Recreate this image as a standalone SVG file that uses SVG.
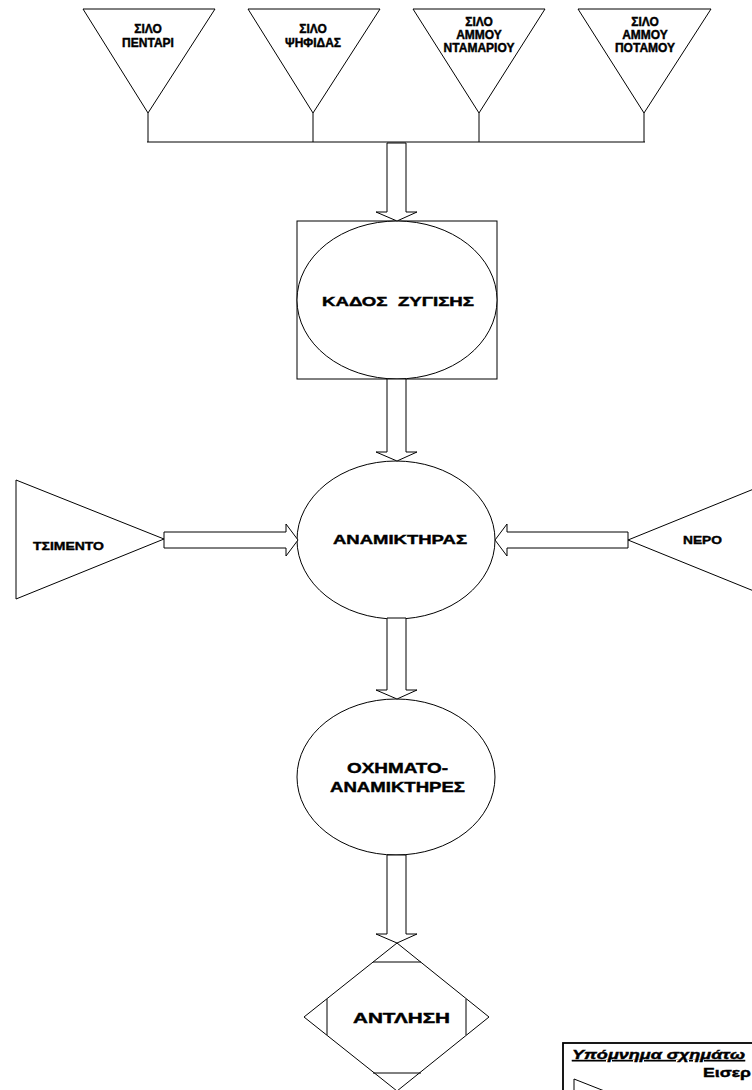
<svg xmlns="http://www.w3.org/2000/svg" width="752" height="1090" viewBox="0 0 752 1090">
<style>
.s{fill:#fff;stroke:#000;stroke-width:1}
.n{fill:none;stroke:#000;stroke-width:1}
.t{font-family:"Liberation Sans",Arial,sans-serif;font-weight:bold;fill:#000;stroke:#000;stroke-width:0.4}
.c{text-anchor:middle}
</style>
<rect x="0" y="0" width="752" height="1090" fill="#fff"/>
<g id="silo-pentari">
<polygon class="s" points="83,9 215,9 148,113"/>
<text class="t c" font-size="12" x="148" y="33">ΣΙΛΟ</text>
<text class="t c" font-size="12" x="148" y="47">ΠΕΝΤΑΡΙ</text>
</g>
<g id="silo-psifidas">
<polygon class="s" points="248,9 380,9 313,113"/>
<text class="t c" font-size="12" x="313" y="33">ΣΙΛΟ</text>
<text class="t c" font-size="12" x="313" y="47">ΨΗΦΙΔΑΣ</text>
</g>
<g id="silo-ammou-ntamariou">
<polygon class="s" points="413,9 545,9 479,113"/>
<text class="t c" font-size="12" x="479" y="26">ΣΙΛΟ</text>
<text class="t c" font-size="12" x="479" y="39">ΑΜΜΟΥ</text>
<text class="t c" font-size="12" x="479" y="52">ΝΤΑΜΑΡΙΟΥ</text>
</g>
<g id="silo-ammou-potamou">
<polygon class="s" points="578,9 711,9 644,113"/>
<text class="t c" font-size="12" x="645" y="26">ΣΙΛΟ</text>
<text class="t c" font-size="12" x="645" y="39">ΑΜΜΟΥ</text>
<text class="t c" font-size="12" x="645" y="52">ΠΟΤΑΜΟΥ</text>
</g>
<g id="kados-zygisis">
<rect class="s" x="297" y="221" width="200" height="158"/>
<ellipse class="s" cx="397" cy="300" rx="100" ry="79"/>
<text class="t" font-size="12.5" x="322" y="306" textLength="152" lengthAdjust="spacingAndGlyphs" xml:space="preserve">ΚΑΔΟΣ  ΖΥΓΙΣΗΣ</text>
</g>
<g id="anamiktiras">
<ellipse class="s" cx="396" cy="540" rx="99" ry="79"/>
<text class="t" font-size="13" x="333" y="544" textLength="134" lengthAdjust="spacingAndGlyphs">ΑΝΑΜΙΚΤΗΡΑΣ</text>
</g>
<g id="tsimento">
<polygon class="s" points="16,480 164,539 16,599"/>
<text class="t" font-size="11.5" x="33" y="550" textLength="71" lengthAdjust="spacingAndGlyphs">ΤΣΙΜΕΝΤΟ</text>
</g>
<g id="nero">
<polygon class="s" points="628,540 776,480 776,600"/>
<text class="t" font-size="11.5" x="683" y="544" textLength="39" lengthAdjust="spacingAndGlyphs">ΝΕΡΟ</text>
</g>
<g id="ochimato-anamiktires">
<ellipse class="s" cx="396" cy="777" rx="99" ry="78"/>
<text class="t" font-size="14" x="347" y="773" textLength="101" lengthAdjust="spacingAndGlyphs">ΟΧΗΜΑΤΟ-</text>
<text class="t" font-size="14" x="330" y="792" textLength="135" lengthAdjust="spacingAndGlyphs">ΑΝΑΜΙΚΤΗΡΕΣ</text>
</g>
<g id="antlisi">
<polygon class="s" points="397,943 489,1017 397,1091 304,1017"/>
<line class="n" x1="373" y1="962" x2="421" y2="962"/>
<line class="n" x1="373" y1="1073" x2="421" y2="1073"/>
<line class="n" x1="327" y1="999" x2="327" y2="1035"/>
<line class="n" x1="466" y1="999" x2="466" y2="1035"/>
<text class="t" font-size="14" x="353" y="1023" textLength="97" lengthAdjust="spacingAndGlyphs">ΑΝΤΛΗΣΗ</text>
</g>
<g id="legend">
<rect x="563" y="1043" width="220" height="80" fill="#fff" stroke="#000" stroke-width="1.8"/>
<text class="t" font-size="12" font-style="italic" text-decoration="underline" x="572" y="1059" textLength="173" lengthAdjust="spacingAndGlyphs">Υπόμνημα σχημάτω</text>
<text class="t" font-size="13" x="703" y="1077" textLength="48" lengthAdjust="spacingAndGlyphs">Εισερ</text>
<polygon class="s" points="574,1079 640,1105 574,1131"/>
</g>
<g id="connectors">
<path class="n" stroke-width="1.6" d="M148,113 V142 M313,113 V142 M479,113 V142 M644,113 V142 M147,142 H645"/>
<polygon class="s" points="387,143 406,143 406,212 417,212 397,221 376,212 387,212"/>
<polygon class="s" points="387,379 406,379 406,452 417,452 397,461 376,452 387,452"/>
<polygon class="s" points="387,618 406,618 406,690 417,690 397,699 376,690 387,690"/>
<polygon class="s" points="387,855 406,855 406,934 417,934 397,943 376,934 387,934"/>
<polygon class="s" points="164,532 286,532 286,524 298,540 286,556 286,548 164,548"/>
<polygon class="s" points="628,532 507,532 507,524 495,540 507,556 507,548 628,548"/>
</g>
</svg>
